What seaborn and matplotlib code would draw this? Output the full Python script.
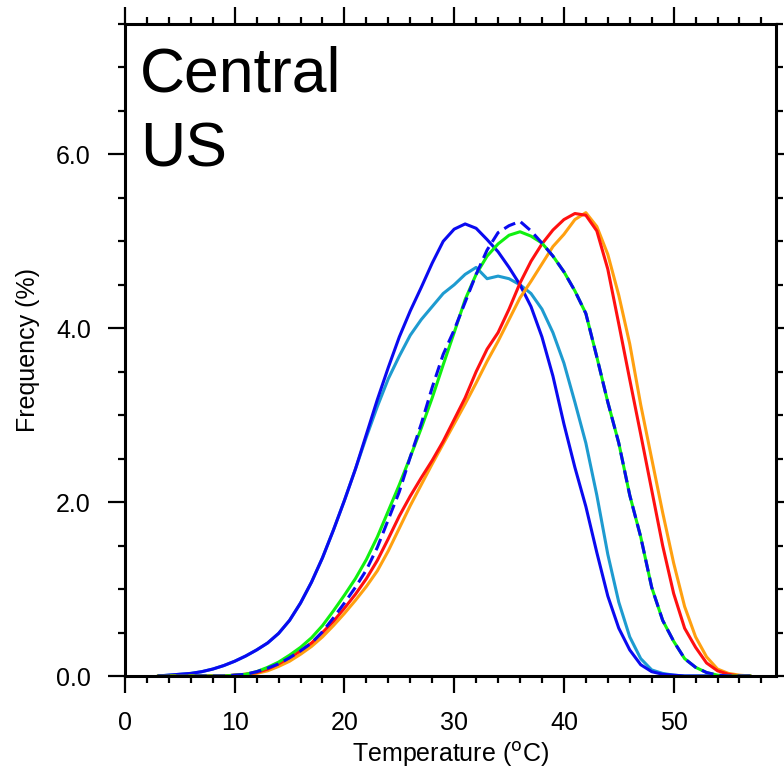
import numpy as np
import pandas as pd
import matplotlib
matplotlib.use('Agg')
import matplotlib.pyplot as plt
from matplotlib.ticker import MultipleLocator, FormatStrFormatter
import seaborn as sns

# temperatura (graus C) - grade de 1 grau
temp = list(range(3, 58))

# curvas (frequencia em %)
azul = [0, 0.01, 0.02, 0.03, 0.05, 0.08, 0.12, 0.17, 0.23, 0.30, 0.38, 0.49, 0.64, 0.84,
        1.08, 1.36, 1.68, 2.02, 2.38, 2.78, 3.18, 3.55, 3.90, 4.20, 4.47, 4.75, 5.00, 5.14,
        5.20, 5.15, 5.02, 4.88, 4.70, 4.50, 4.25, 3.90, 3.45, 2.90, 2.40, 1.95, 1.42, 0.92,
        0.55, 0.30, 0.13, 0.05, 0.02, 0.01, 0, 0, 0, 0, 0, 0, 0]
azul_claro = [0, 0.01, 0.02, 0.03, 0.05, 0.08, 0.12, 0.17, 0.23, 0.30, 0.38, 0.49, 0.64, 0.84,
              1.08, 1.36, 1.68, 2.02, 2.38, 2.75, 3.10, 3.42, 3.68, 3.92, 4.10, 4.25, 4.40, 4.50,
              4.62, 4.70, 4.57, 4.60, 4.57, 4.50, 4.40, 4.22, 3.95, 3.60, 3.15, 2.68, 2.08, 1.40,
              0.85, 0.45, 0.20, 0.07, 0.03, 0.01, 0, 0, 0, 0, 0, 0, 0]
verde = [0, 0, 0, 0, 0, 0, 0, 0.01, 0.02, 0.05, 0.10, 0.16, 0.24, 0.33, 0.44, 0.58, 0.75,
         0.93, 1.12, 1.34, 1.60, 1.90, 2.20, 2.52, 2.85, 3.20, 3.58, 3.95, 4.33, 4.62, 4.83,
         4.97, 5.07, 5.11, 5.06, 4.98, 4.83, 4.65, 4.43, 4.17, 3.67, 3.15, 2.68, 2.08, 1.60,
         1.02, 0.64, 0.40, 0.20, 0.10, 0.04, 0.01, 0, 0, 0]
azul_trac = [0, 0, 0, 0, 0, 0, 0, 0.01, 0.02, 0.05, 0.09, 0.14, 0.21, 0.29, 0.38, 0.51, 0.67,
             0.84, 1.02, 1.22, 1.48, 1.80, 2.12, 2.52, 2.90, 3.32, 3.70, 3.98, 4.30, 4.62, 4.90,
             5.10, 5.18, 5.23, 5.12, 4.98, 4.83, 4.65, 4.43, 4.17, 3.67, 3.15, 2.68, 2.08, 1.60,
             1.02, 0.64, 0.40, 0.20, 0.10, 0.04, 0.01, 0, 0, 0]
vermelho = [0, 0, 0, 0, 0, 0, 0, 0.01, 0.02, 0.04, 0.08, 0.14, 0.21, 0.29, 0.38, 0.50, 0.63,
            0.78, 0.94, 1.12, 1.33, 1.58, 1.84, 2.07, 2.28, 2.48, 2.70, 2.95, 3.20, 3.50, 3.76,
            3.95, 4.22, 4.52, 4.77, 4.97, 5.13, 5.25, 5.32, 5.30, 5.12, 4.68, 4.05, 3.41, 2.78,
            2.14, 1.50, 0.95, 0.55, 0.33, 0.15, 0.06, 0.02, 0, 0]
laranja = [0, 0, 0, 0, 0, 0, 0, 0.01, 0.02, 0.03, 0.06, 0.11, 0.17, 0.25, 0.34, 0.45, 0.58,
           0.72, 0.87, 1.03, 1.21, 1.44, 1.70, 1.96, 2.20, 2.44, 2.67, 2.90, 3.13, 3.37, 3.62,
           3.85, 4.10, 4.35, 4.54, 4.74, 4.94, 5.08, 5.25, 5.33, 5.17, 4.85, 4.38, 3.82, 3.12,
           2.50, 1.88, 1.30, 0.80, 0.45, 0.22, 0.08, 0.03, 0.01, 0]

df = pd.DataFrame({'temp': temp, 'azul': azul, 'azul_claro': azul_claro, 'verde': verde,
                   'azul_trac': azul_trac, 'vermelho': vermelho, 'laranja': laranja})

sns.set_style('ticks')
plt.rcParams['font.family'] = ['Liberation Sans', 'DejaVu Sans']
plt.rcParams['text.color'] = 'black'
plt.rcParams['axes.labelcolor'] = 'black'
plt.rcParams['xtick.color'] = 'black'
plt.rcParams['ytick.color'] = 'black'

fig = plt.figure(figsize=(7.84, 7.71), dpi=100)
ax = fig.add_axes([0.1594, 0.1232, 0.8300, 0.8457])

lw = 2.2
sns.lineplot(data=df, x='temp', y='azul_claro', color='#1E9BD0', lw=lw, ax=ax)
sns.lineplot(data=df, x='temp', y='azul', color='#0A0AF0', lw=lw, ax=ax)
sns.lineplot(data=df, x='temp', y='laranja', color='#FFA010', lw=lw, ax=ax)
sns.lineplot(data=df, x='temp', y='vermelho', color='#FF1010', lw=lw, ax=ax)
sns.lineplot(data=df, x='temp', y='verde', color='#10F010', lw=lw, ax=ax)
sns.lineplot(data=df, x='temp', y='azul_trac', color='#0A0AF0', lw=lw, ax=ax,
             linestyle=(0, (4, 2)))

ax.set_xlim(0, 59.3)
ax.set_ylim(0, 7.5)

ax.xaxis.set_major_locator(MultipleLocator(10))
ax.xaxis.set_minor_locator(MultipleLocator(2))
ax.yaxis.set_major_locator(MultipleLocator(2))
ax.yaxis.set_minor_locator(MultipleLocator(0.5))
ax.yaxis.set_major_formatter(FormatStrFormatter('%.1f'))

for s in ax.spines.values():
    s.set_linewidth(2.2)
    s.set_color('black')

ax.tick_params(which='both', direction='out', top=True, right=True, width=1.6,
               color='black', labelcolor='black')
ax.tick_params(which='major', length=12.5, labelsize=18)
ax.tick_params(which='minor', length=5)
ax.tick_params(axis='y', which='major', pad=12)
ax.tick_params(axis='x', which='major', pad=13)

ax.set_xlabel('Temperature ($^{\\mathrm{o}}$C)', fontsize=18)
ax.set_ylabel('Frequency (%)', fontsize=18)
ax.xaxis.set_label_coords(0.5, -0.098)
ax.yaxis.set_label_coords(-0.131, 0.5)

ax.text(0.023, 0.896, 'Central', transform=ax.transAxes, fontsize=45, va='baseline', ha='left')
ax.text(0.023, 0.781, 'US', transform=ax.transAxes, fontsize=45, va='baseline', ha='left')

plt.savefig('out.png', dpi=100)
